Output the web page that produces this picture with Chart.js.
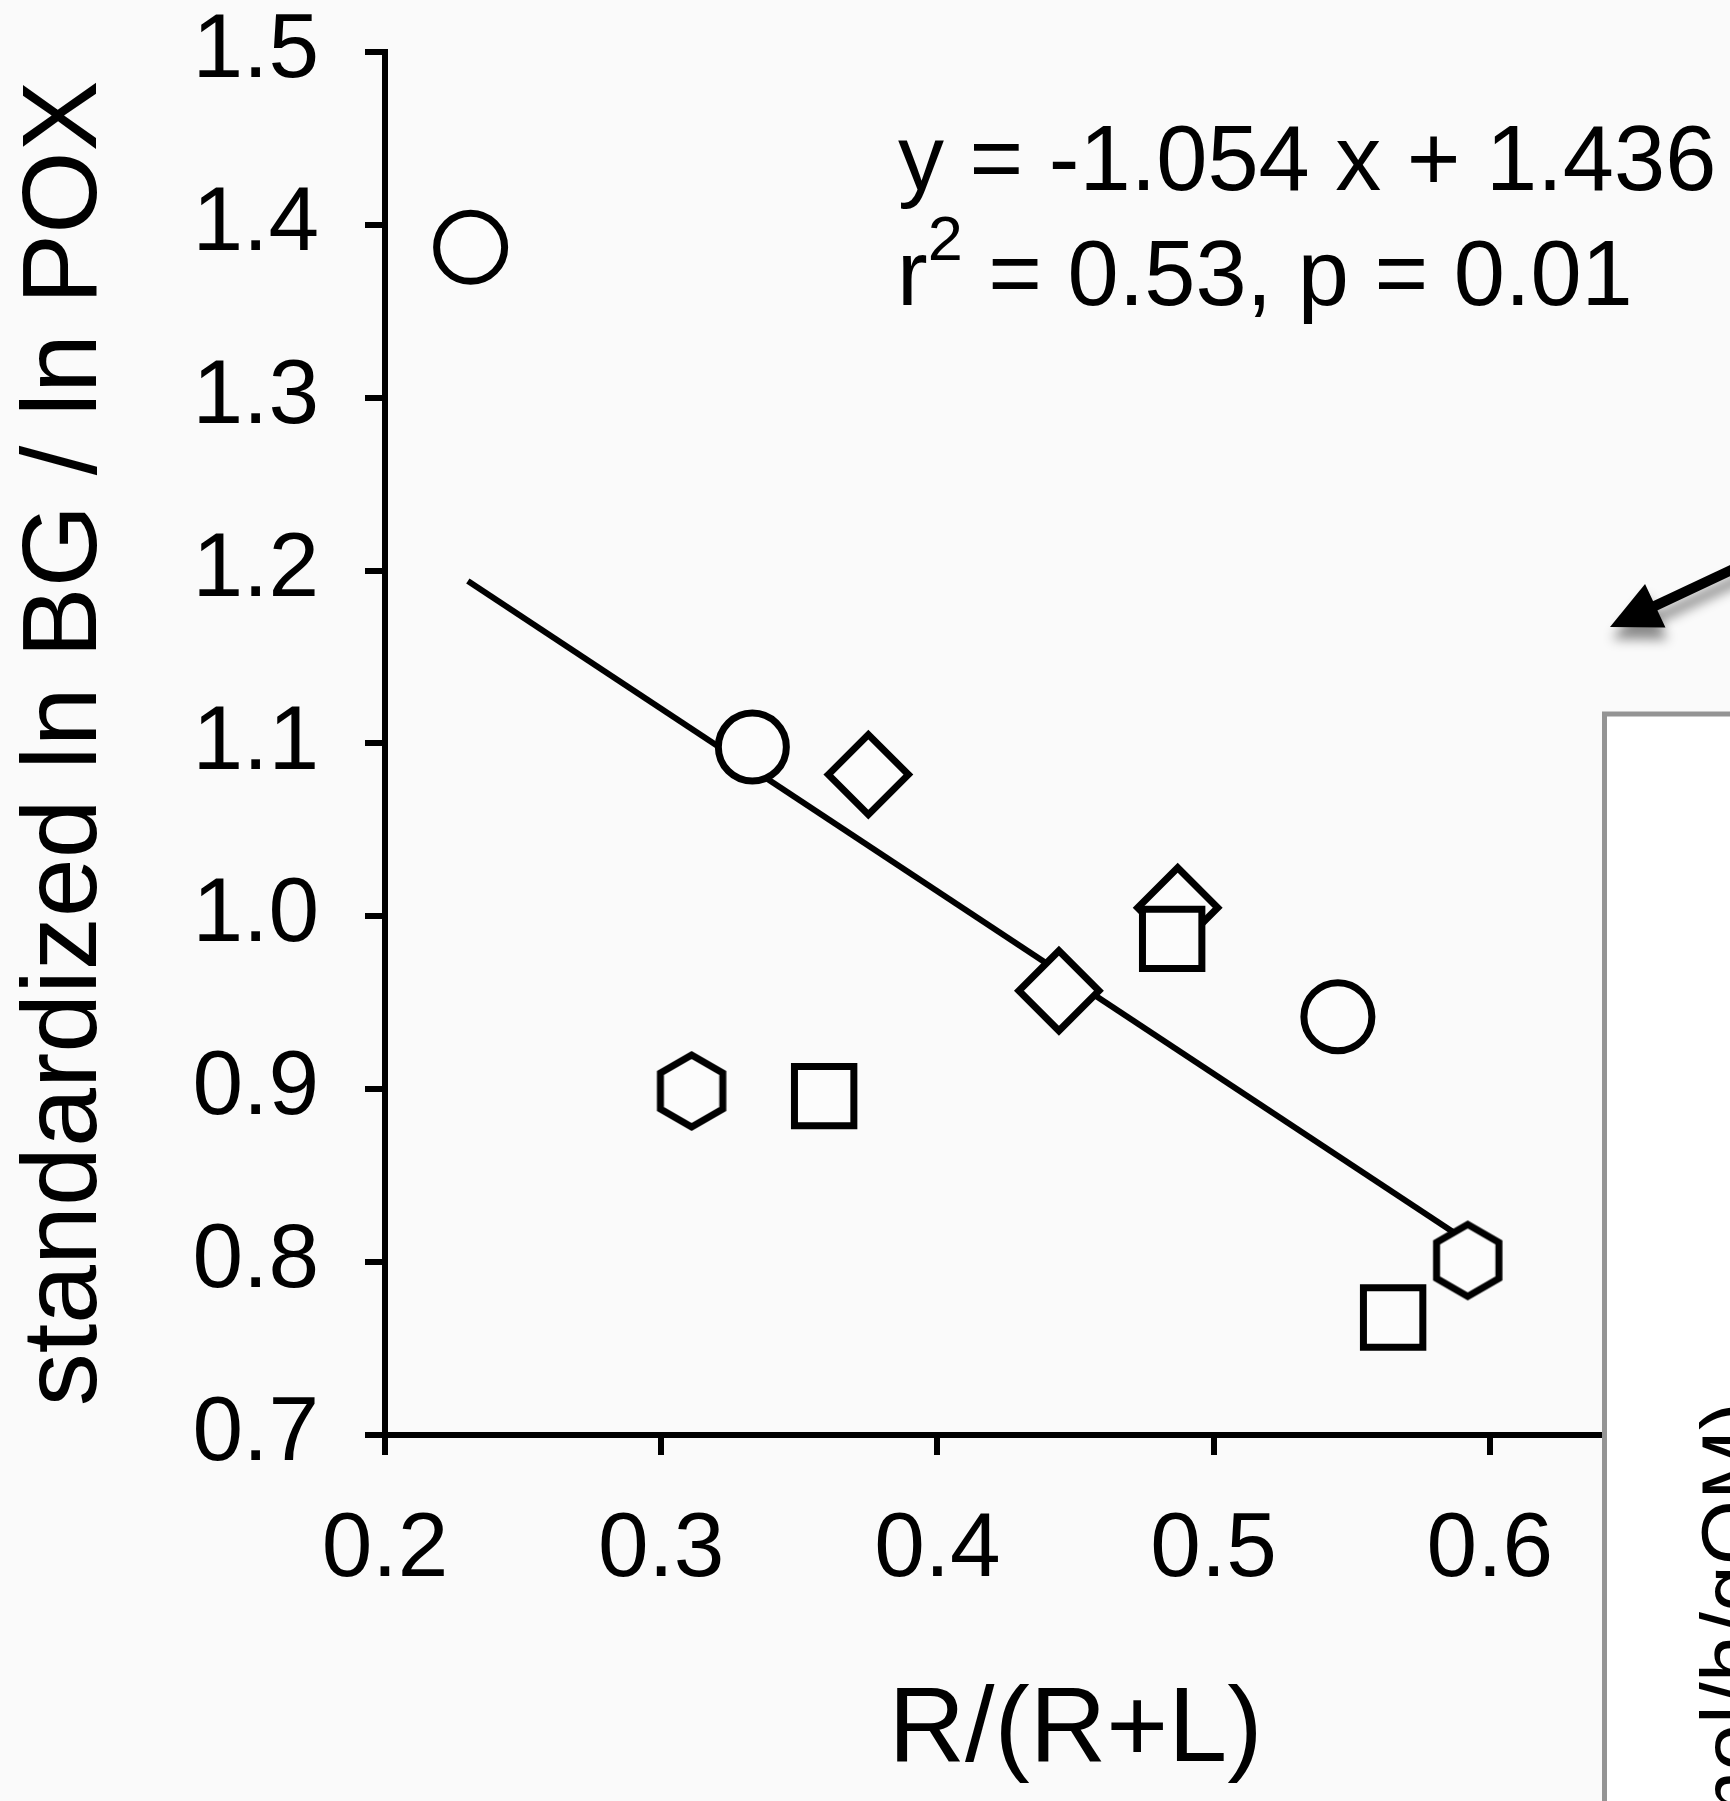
<!DOCTYPE html>
<html><head><meta charset="utf-8">
<script src="https://cdn.jsdelivr.net/npm/chart.js@4.4.0/dist/chart.umd.min.js"></script>
<style>
html,body{margin:0;padding:0;overflow:hidden;background:#fafafa;width:1730px;height:1801px;}
canvas{position:absolute;left:0;top:0;}
</style></head><body>
<canvas id="c" width="1900" height="1801"></canvas>
<script>
// ---- data ----
const xTicks = [0.2, 0.3, 0.4, 0.5, 0.6, 0.7];
const yTicks = [0.7, 0.8, 0.9, 1.0, 1.1, 1.2, 1.3, 1.4, 1.5];
const circleX = [0.231, 0.333, 0.545];
const circleY = [1.387, 1.098, 0.942];
const diamondX = [0.375, 0.444, 0.487];
const diamondY = [1.082, 0.957, 1.005];
const squareX = [0.359, 0.485, 0.565];
const squareY = [0.896, 0.987, 0.768];
const hexagonX = [0.311, 0.592];
const hexagonY = [0.899, 0.801];
const fitX = [0.230, 0.590];
const fitY = [1.194, 0.814];
const eqLine1 = 'y = -1.054 x + 1.436';
const eqLine2a = 'r';
const eqLine2sup = '2';
const eqLine2b = ' = 0.53, p = 0.01';
const xTitle = 'R/(R+L)';
const yTitle = 'standardized ln BG / ln POX';
const insetTitle = '(nmol/h/gOM)';

const FONT = '"Liberation Sans", Arial, Helvetica, sans-serif';
const pts = (xs, ys) => xs.map((x, i) => ({x: x, y: ys[i]}));

function hexImg(R, lw) {
  const s = Math.ceil(2 * (R + lw));
  const c = document.createElement('canvas');
  c.width = s; c.height = s;
  const g = c.getContext('2d');
  g.beginPath();
  for (let i = 0; i < 6; i++) {
    const a = -Math.PI / 2 + i * Math.PI / 3;
    const px = s / 2 + R * Math.cos(a), py = s / 2 + R * Math.sin(a);
    if (i) g.lineTo(px, py); else g.moveTo(px, py);
  }
  g.closePath();
  g.fillStyle = '#fcfcfc'; g.fill();
  g.lineWidth = lw; g.strokeStyle = '#000'; g.lineJoin = 'miter';
  g.stroke();
  return c;
}
const hex = hexImg(36, 7);

const markerBase = {showLine: false, backgroundColor: '#fcfcfc', borderColor: '#000', borderWidth: 7, pointBorderWidth: 7, pointHoverRadius: 0};

const overlay = {
  id: 'overlay',
  afterDraw(chart) {
    const ctx = chart.ctx;
    ctx.save();
    // equation
    ctx.fillStyle = '#000';
    ctx.textAlign = 'left';
    ctx.textBaseline = 'alphabetic';
    ctx.font = '92px ' + FONT;
    ctx.fillText(eqLine1, 898, 190);
    ctx.fillText(eqLine2a, 897, 305);
    const rw = ctx.measureText(eqLine2a).width;
    ctx.font = '63px ' + FONT;
    ctx.fillText(eqLine2sup, 897 + rw, 260);
    const sw = ctx.measureText(eqLine2sup).width;
    ctx.font = '92px ' + FONT;
    ctx.fillText(eqLine2b, 897 + rw + sw, 305);

    // arrow with shadow
    const T = {x: 1610, y: 627};
    const u = {x: 0.905, y: -0.425};
    const n = {x: 0.425, y: 0.905};
    const L = 50, W = 24;
    const B = {x: T.x + L * u.x, y: T.y + L * u.y};
    ctx.shadowColor = 'rgba(0,0,0,0.45)';
    ctx.shadowBlur = 12;
    ctx.shadowOffsetX = 2;
    ctx.shadowOffsetY = 12;
    ctx.strokeStyle = '#000';
    ctx.lineWidth = 10;
    ctx.beginPath();
    ctx.moveTo(B.x - 2 * u.x, B.y - 2 * u.y);
    ctx.lineTo(T.x + 400 * u.x, T.y + 400 * u.y);
    ctx.stroke();
    ctx.beginPath();
    ctx.moveTo(T.x, T.y);
    ctx.lineTo(B.x + W * n.x, B.y + W * n.y);
    ctx.lineTo(B.x - W * n.x, B.y - W * n.y);
    ctx.closePath();
    ctx.fillStyle = '#000';
    ctx.fill();
    ctx.shadowColor = 'transparent';
    ctx.shadowBlur = 0; ctx.shadowOffsetX = 0; ctx.shadowOffsetY = 0;

    // inset panel
    ctx.fillStyle = '#ffffff';
    ctx.fillRect(1604.5, 714, 600, 1200);
    ctx.strokeStyle = '#949494';
    ctx.lineWidth = 5;
    ctx.strokeRect(1604.5, 714, 600, 1200);
    ctx.translate(1760, 1402);
    ctx.rotate(-Math.PI / 2);
    ctx.fillStyle = '#000';
    ctx.textAlign = 'right';
    ctx.font = '84px ' + FONT;
    ctx.fillText(insetTitle, 0, 0);
    ctx.restore();
  }
};

new Chart(document.getElementById('c'), {
  type: 'scatter',
  data: {
    datasets: [
      {label: 'fit', data: pts(fitX, fitY), showLine: true, borderColor: '#000', borderWidth: 6, pointRadius: 0, fill: false, tension: 0, order: 5},
      Object.assign({label: 'circle', data: pts(circleX, circleY), pointStyle: 'circle', pointRadius: 34, order: 4}, markerBase),
      Object.assign({label: 'diamond', data: pts(diamondX, diamondY), pointStyle: 'rectRot', pointRadius: 40, order: 3}, markerBase),
      Object.assign({label: 'square', data: pts(squareX, squareY), pointStyle: 'rect', pointRadius: 42, order: 2}, markerBase),
      Object.assign({label: 'hexagon', data: pts(hexagonX, hexagonY), pointStyle: hex, pointRadius: 40, order: 1}, markerBase)
    ]
  },
  options: {
    responsive: false,
    animation: false,
    devicePixelRatio: 1,
    layout: {padding: {left: 0, top: 52, right: 134, bottom: 0}},
    plugins: {legend: {display: false}, tooltip: {enabled: false}},
    scales: {
      x: {
        type: 'linear', min: 0.2, max: 0.7,
        afterBuildTicks: s => { s.ticks = xTicks.map(v => ({value: v})); },
        afterFit: s => { s.height = 366; s.paddingLeft = 0; s.paddingRight = 0; },
        grid: {drawOnChartArea: false, drawTicks: true, tickLength: 20, color: '#000', lineWidth: 6},
        border: {display: true, color: '#000', width: 6},
        ticks: {color: '#000', font: {family: FONT, size: 91}, padding: 41, maxRotation: 0, autoSkip: false, callback: v => Number(v).toFixed(1)},
        title: {display: true, text: xTitle, color: '#000', font: {family: FONT, size: 106}, padding: {top: 0, bottom: 6}}
      },
      y: {
        type: 'linear', min: 0.7, max: 1.5,
        afterBuildTicks: s => { s.ticks = yTicks.map(v => ({value: v})); },
        afterFit: s => { s.width = 385; s.paddingTop = 0; s.paddingBottom = 0; },
        grid: {drawOnChartArea: false, drawTicks: true, tickLength: 20, color: '#000', lineWidth: 6},
        border: {display: true, color: '#000', width: 6},
        ticks: {color: '#000', font: {family: FONT, size: 91}, padding: 46, autoSkip: false, callback: v => Number(v).toFixed(1)},
        title: {display: true, text: yTitle, color: '#000', font: {family: FONT, size: 106}, padding: {top: 3, bottom: 0}}
      }
    }
  },
  plugins: [overlay]
});
</script>
</body></html>
